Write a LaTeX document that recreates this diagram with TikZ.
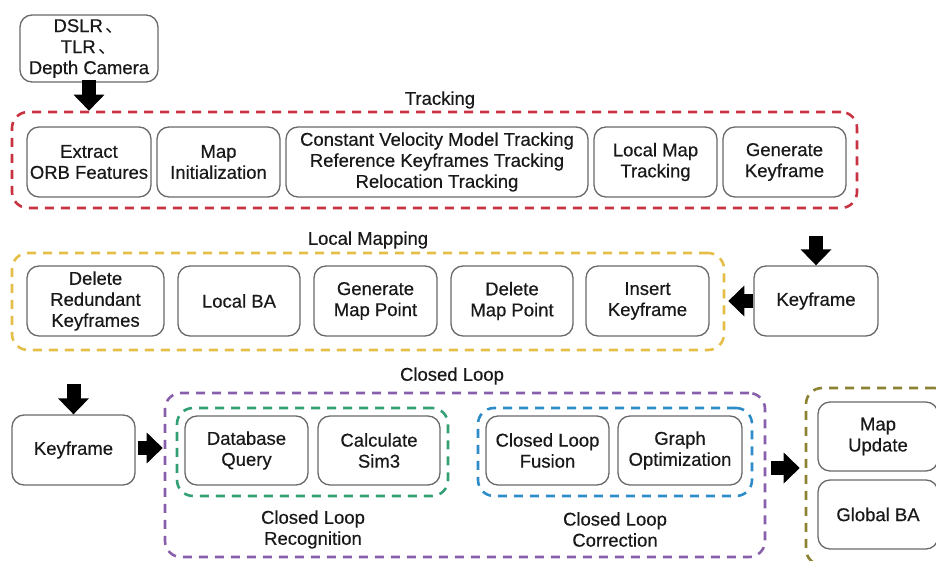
\documentclass[tikz,border=0pt]{standalone}
\usepackage{fontspec}
\setmainfont[FakeBold=0.45]{Liberation Sans}
\newfontfamily\cjk{Noto Sans CJK SC}
\usetikzlibrary{arrows.meta}
\definecolor{txt}{RGB}{25,25,25}
\definecolor{boxgray}{RGB}{105,105,105}
\definecolor{trackred}{RGB}{200,50,65}
\definecolor{mapyellow}{RGB}{228,190,70}
\definecolor{loopviolet}{RGB}{135,95,170}
\definecolor{recgreen}{RGB}{50,160,115}
\definecolor{corblue}{RGB}{45,140,200}
\definecolor{updolive}{RGB}{140,130,50}
\newcommand{\fs}{\fontsize{18.5}{21}\selectfont}
\begin{document}
\begin{tikzpicture}[x=1pt,y=-1pt,
  box/.style={draw=boxgray, line width=1.3pt, rounded corners=12pt, fill=white,
    align=center, inner sep=0pt, text=txt, font=\fs, minimum height=70pt},
  group/.style={draw=#1, line width=2.6pt, dash pattern=on 9pt off 7pt,
    rounded corners=16pt, inner sep=0pt},
  title/.style={text=txt, font=\fs, align=center, inner sep=0pt},
  bigarrow/.style={line width=14pt, draw=black, -{Triangle[width=30pt,length=16pt]}}]
\useasboundingbox (0,0) rectangle (936,561);
\clip (0,0) rectangle (936,561);

% input devices
\node[box, minimum width=138pt, minimum height=67pt] (dev) at (89,48.5)
  {DSLR\,{\cjk 、}\\TLR\,{\cjk 、}\\Depth Camera};

% Tracking thread
\node[title] (ttrack) at (440,100) {Tracking};
\node[group=trackred, minimum width=845pt, minimum height=96pt] (track) at (434.5,160) {};
\node[box, minimum width=124pt] (orb) at (89,162) {Extract\\ORB Features};
\node[box, minimum width=123pt] (init) at (218.5,162) {Map\\Initialization};
\node[box, minimum width=302pt] (cvm) at (437,162)
  {Constant Velocity Model Tracking\\Reference Keyframes Tracking\\Relocation Tracking};
\node[box, minimum width=123pt] (lmt) at (655.5,162) {Local Map\\Tracking};
\node[box, minimum width=123pt] (genkf) at (784.5,162) {Generate\\Keyframe};
\draw[bigarrow] ([yshift=3pt]dev.south) -- (track.north -| dev.south);

% Local Mapping thread
\node[title] (tlm) at (368,240) {Local Mapping};
\node[group=mapyellow, minimum width=712pt, minimum height=97pt] (lm) at (368,301.5) {};
\node[box, minimum width=137pt] (delkf) at (95.5,301) {Delete\\Redundant\\Keyframes};
\node[box, minimum width=122pt] (lba) at (239,301) {Local BA};
\node[box, minimum width=123pt] (genmp) at (375.5,301) {Generate\\Map Point};
\node[box, minimum width=122pt] (delmp) at (512,301) {Delete\\Map Point};
\node[box, minimum width=123pt] (inskf) at (647.5,301) {Insert\\Keyframe};
\node[box, minimum width=124pt] (kfa) at (816,301) {Keyframe};
\coordinate (kfain) at (816,236);
\draw[bigarrow] (kfain) -- (kfa.north);
\draw[bigarrow] (kfa.west) -- ([xshift=3pt]lm.east |- kfa.west);

% Closed Loop thread
\node[title] (tcl) at (452,376) {Closed Loop};
\node[box, minimum width=123pt] (kfb) at (73.5,450) {Keyframe};
\coordinate (kfbin) at (73.5,384);
\draw[bigarrow] (kfbin) -- (kfb.north);
\node[group=loopviolet, minimum width=600pt, minimum height=164pt] (cl) at (465,475) {};
\node[group=recgreen, minimum width=271pt, minimum height=88pt] (rec) at (312.5,452) {};
\node[group=corblue, minimum width=274pt, minimum height=88pt] (cor) at (615,452) {};
\node[box, minimum width=123pt, minimum height=69pt] (dbq) at (246.5,450.5) {Database\\Query};
\node[box, minimum width=122pt, minimum height=69pt] (sim) at (379,450.5) {Calculate\\Sim3};
\node[box, minimum width=123pt, minimum height=69pt] (fus) at (547.5,450.5) {Closed Loop\\Fusion};
\node[box, minimum width=124pt, minimum height=69pt] (gopt) at (680,450.5) {Graph\\Optimization};
\node[title] (trec) at (313,529.5) {Closed Loop\\Recognition};
\node[title] (tcor) at (615,529.5) {Closed Loop\\Correction};
\coordinate (kfbout) at ([xshift=2pt,yshift=2pt]kfb.east);
\draw[bigarrow] (kfbout) -- ([xshift=-1pt]cl.west |- kfbout);

% Map update
\node[group=updolive, minimum width=144pt, minimum height=177pt] (upd) at (878,476.5) {};
\node[box, minimum width=120pt, minimum height=69pt] (mup) at (878,436.5) {Map\\Update};
\node[box, minimum width=120pt, minimum height=69pt] (gba) at (878,514.5) {Global BA};
\coordinate (clout) at (cl.east |- 0,468);
\draw[bigarrow, shorten <=5pt, shorten >=5pt] (clout) -- (upd.west |- clout);
\end{tikzpicture}
\end{document}
